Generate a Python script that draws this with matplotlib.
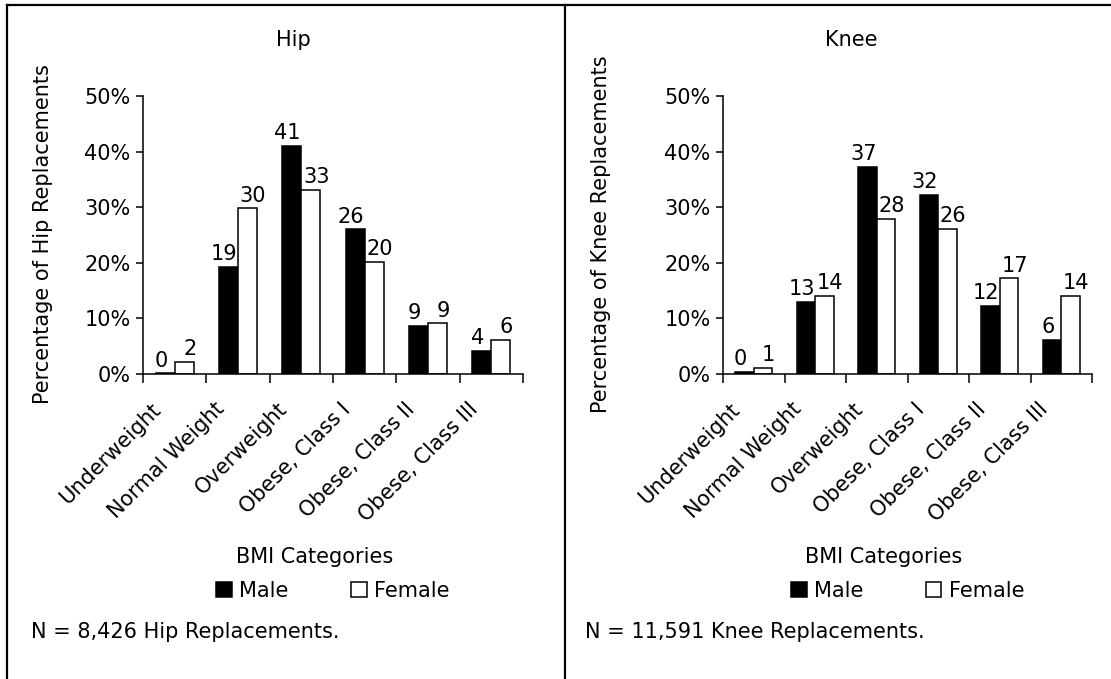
import matplotlib
matplotlib.use("Agg")
import matplotlib.pyplot as plt
from matplotlib.patches import Patch
from matplotlib.lines import Line2D
from matplotlib.ticker import FixedLocator, FuncFormatter, NullFormatter
import numpy as np

categories = ["Underweight", "Normal Weight", "Overweight",
              "Obese, Class I", "Obese, Class II", "Obese, Class III"]
hip_male = [0.1, 19.2, 41.0, 26.0, 8.7, 4.2]
hip_female = [2.2, 29.8, 33.1, 20.2, 9.1, 6.2]
knee_male = [0.4, 13.0, 37.2, 32.2, 12.3, 6.2]
knee_female = [1.1, 14.0, 27.9, 26.1, 17.2, 14.0]
y_ticks = [0, 10, 20, 30, 40, 50]

plt.rcParams['font.family'] = ['DejaVu Sans']
FS = 15

W, H = 1111, 679
fig = plt.figure(figsize=(W / 100, H / 100), dpi=100)


def fx(px):
    return px / W


def fy(py):
    return 1 - py / H


panels = [
    dict(title="Hip", male=hip_male, female=hip_female,
         ylabel="Percentage of Hip Replacements",
         note="N = 8,426 Hip Replacements.",
         ax=(143, 523), title_x=293, ylabel_x=43, xlabel_x=315,
         note_x=31),
    dict(title="Knee", male=knee_male, female=knee_female,
         ylabel="Percentage of Knee Replacements",
         note="N = 11,591 Knee Replacements.",
         ax=(723, 1092), title_x=851, ylabel_x=601, xlabel_x=884,
         note_x=585),
]

ax_top, ax_bot = 96, 374
bw = 0.3

for p in panels:
    x0, x1 = p["ax"]
    ax = fig.add_axes([fx(x0), fy(ax_bot), (x1 - x0) / W, (ax_bot - ax_top) / H])
    x = np.arange(len(categories))
    bm = ax.bar(x - bw / 2, p["male"], bw, color="black", edgecolor="black", linewidth=1.1)
    bf = ax.bar(x + bw / 2, p["female"], bw, color="white", edgecolor="black", linewidth=1.1)
    for bars, vals, dx in ((bm, p["male"], -3), (bf, p["female"], 4)):
        for b, v in zip(bars, vals):
            ax.annotate(f"{int(round(v))}", (b.get_x() + b.get_width() / 2, v),
                        xytext=(dx, 2), textcoords="offset points",
                        ha="center", va="bottom", fontsize=FS)
    ax.set_xlim(-0.5, len(categories) - 0.5)
    ax.set_ylim(0, 50)
    ax.yaxis.set_major_locator(FixedLocator(y_ticks))
    ax.yaxis.set_major_formatter(FuncFormatter(lambda v, _: f"{int(v)}%"))
    # category labels (rotated)
    ax.set_xticks(x)
    ax.xaxis.set_major_formatter(NullFormatter())
    for xi, cat in zip(x, categories):
        ax.annotate(cat, (xi, 0), xycoords="data",
                    xytext=(-12.2, -23), textcoords="offset points",
                    rotation=45, rotation_mode="anchor", ha="right", va="center",
                    fontsize=FS, annotation_clip=False)
    ax.set_xticks(np.arange(len(categories) + 1) - 0.5, minor=True)
    ax.tick_params(axis="x", which="major", length=0)
    ax.tick_params(axis="x", which="minor", length=6.5, width=1.1, direction="out")
    ax.tick_params(axis="y", length=5, width=1.1, direction="out", labelsize=FS, pad=4)
    for s in ("top", "right"):
        ax.spines[s].set_visible(False)
    for s in ("left", "bottom"):
        ax.spines[s].set_linewidth(1.1)
    ax.set_facecolor("none")

    fig.text(fx(p["title_x"]), fy(40), p["title"], ha="center", va="center", fontsize=FS)
    fig.text(fx(p["ylabel_x"]), fy(234), p["ylabel"], ha="center", va="center",
             rotation=90, fontsize=FS)
    fig.text(fx(p["xlabel_x"]), fy(557), "BMI Categories", ha="center", va="center",
             fontsize=FS)
    fig.text(fx(p["note_x"]), fy(632), p["note"], ha="left", va="center", fontsize=FS)

    handles = [Patch(facecolor="black", edgecolor="black", linewidth=1.1, label="Male"),
               Patch(facecolor="white", edgecolor="black", linewidth=1.1, label="Female")]
    fig.legend(handles=handles, loc="center",
               bbox_to_anchor=(fx((x0 + x1) / 2), fy(591)), ncol=2, frameon=False,
               fontsize=FS, handlelength=0.75, handleheight=0.75, handletextpad=0.35,
               columnspacing=3.0, borderpad=0, borderaxespad=0)

# border lines
lw = 1.6
fig.add_artist(Line2D([fx(7), 1], [fy(5), fy(5)], color="black", linewidth=lw))
fig.add_artist(Line2D([fx(7), fx(7)], [fy(5), 0], color="black", linewidth=lw))
fig.add_artist(Line2D([fx(565), fx(565)], [fy(5), 0], color="black", linewidth=lw))

fig.savefig("out.png", dpi=100, facecolor="white")
